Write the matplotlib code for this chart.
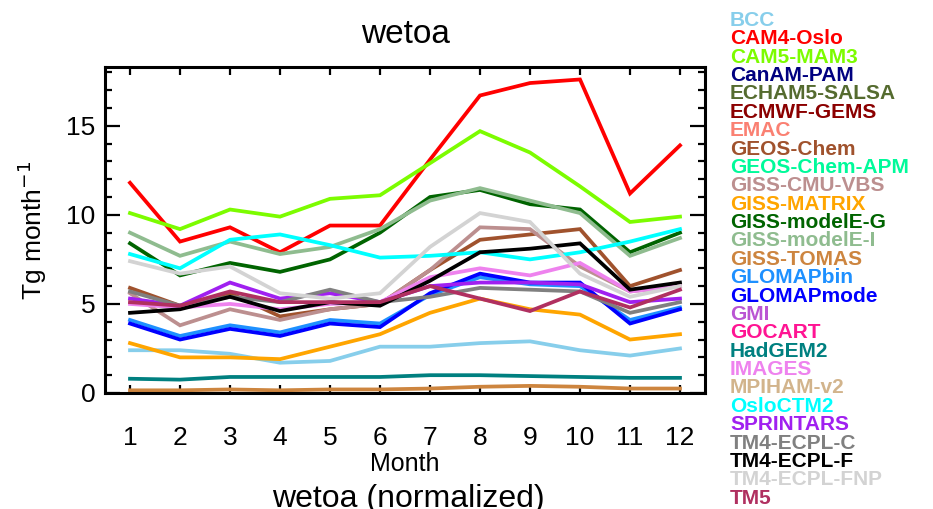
import matplotlib
matplotlib.use('Agg')
import matplotlib.pyplot as plt

plt.rcParams['font.family'] = ['Liberation Sans', 'DejaVu Sans']

months = list(range(1, 13))

# legend entries (all models) and their colours
models = ['BCC', 'CAM4-Oslo', 'CAM5-MAM3', 'CanAM-PAM', 'ECHAM5-SALSA', 'ECMWF-GEMS',
          'EMAC', 'GEOS-Chem', 'GEOS-Chem-APM', 'GISS-CMU-VBS', 'GISS-MATRIX',
          'GISS-modelE-G', 'GISS-modelE-I', 'GISS-TOMAS', 'GLOMAPbin', 'GLOMAPmode',
          'GMI', 'GOCART', 'HadGEM2', 'IMAGES', 'MPIHAM-v2', 'OsloCTM2', 'SPRINTARS',
          'TM4-ECPL-C', 'TM4-ECPL-F', 'TM4-ECPL-FNP', 'TM5']
colors = ['#87CEEB', '#FF0000', '#7CFC00', '#000080', '#556B2F', '#8B0000',
          '#FA8072', '#A0522D', '#00FA9A', '#BC8F8F', '#FFA500',
          '#006400', '#8FBC8F', '#CD853F', '#1E90FF', '#0000FF',
          '#BA55D3', '#FF1493', '#008080', '#EE82EE', '#D2B48C', '#00FFFF', '#A020F0',
          '#808080', '#000000', '#D3D3D3', '#B03060']

# monthly wet deposition (Tg month-1)
bcc = [2.4, 2.4, 2.2, 1.7, 1.8, 2.6, 2.6, 2.8, 2.9, 2.4, 2.1, 2.5]
cam4_oslo = [11.8, 8.5, 9.3, 7.9, 9.4, 9.4, 13.1, 16.7, 17.4, 17.6, 11.2, 13.9]
cam5_mam3 = [10.1, 9.2, 10.3, 9.9, 10.9, 11.1, 12.9, 14.7, 13.5, 11.6, 9.6, 9.9]
geos_chem = [5.9, 4.9, 5.6, 4.3, 4.7, 5.0, 6.9, 8.6, 8.9, 9.2, 6.0, 6.9]
giss_cmu_vbs = [5.6, 3.8, 4.7, 4.1, 4.7, 5.0, 6.9, 9.3, 9.2, 7.1, 5.7, 6.0]
giss_matrix = [2.8, 2.0, 2.0, 1.9, 2.6, 3.3, 4.5, 5.3, 4.7, 4.4, 3.0, 3.3]
giss_modele_g = [8.4, 6.6, 7.3, 6.8, 7.5, 9.0, 11.0, 11.4, 10.6, 10.3, 7.9, 9.0]
giss_modele_i = [9.0, 7.7, 8.5, 7.8, 8.2, 9.2, 10.8, 11.5, 10.8, 10.1, 7.7, 8.7]
giss_tomas = [0.15, 0.15, 0.2, 0.15, 0.2, 0.2, 0.25, 0.35, 0.4, 0.35, 0.25, 0.25]
glomapbin = [4.1, 3.2, 3.8, 3.4, 4.1, 3.9, 5.5, 6.5, 6.1, 6.0, 4.1, 4.8]
glomapmode = [3.9, 3.0, 3.6, 3.2, 3.9, 3.7, 5.6, 6.7, 6.2, 6.2, 3.9, 4.7]
hadgem2 = [0.8, 0.75, 0.9, 0.9, 0.9, 0.9, 1.0, 1.0, 0.95, 0.9, 0.85, 0.85]
images = [5.0, 4.8, 5.0, 4.7, 5.0, 5.1, 6.5, 7.0, 6.6, 7.3, 5.7, 6.0]
osloctm2 = [7.8, 7.0, 8.6, 8.9, 8.3, 7.6, 7.7, 7.9, 7.5, 7.9, 8.5, 9.2]
sprintars = [5.3, 4.9, 6.2, 5.3, 5.6, 5.1, 6.0, 6.2, 6.2, 6.1, 5.1, 5.3]
tm4_ecpl_c = [5.7, 4.9, 5.4, 5.1, 5.8, 5.1, 5.4, 5.9, 5.8, 5.7, 4.5, 5.1]
tm4_ecpl_f = [4.5, 4.7, 5.4, 4.6, 5.1, 4.9, 6.3, 7.9, 8.1, 8.4, 5.8, 6.2]
tm4_ecpl_fnp = [7.4, 6.7, 7.1, 5.6, 5.3, 5.6, 8.2, 10.1, 9.6, 6.7, 5.4, 6.0]
tm5 = [5.1, 4.9, 5.7, 5.1, 5.1, 5.1, 6.0, 5.3, 4.6, 5.7, 4.8, 5.8]

series = {
    'BCC': bcc, 'CAM4-Oslo': cam4_oslo, 'CAM5-MAM3': cam5_mam3,
    'GEOS-Chem': geos_chem, 'GISS-CMU-VBS': giss_cmu_vbs, 'GISS-MATRIX': giss_matrix,
    'GISS-modelE-G': giss_modele_g, 'GISS-modelE-I': giss_modele_i,
    'GISS-TOMAS': giss_tomas, 'GLOMAPbin': glomapbin, 'GLOMAPmode': glomapmode,
    'HadGEM2': hadgem2, 'IMAGES': images, 'OsloCTM2': osloctm2,
    'SPRINTARS': sprintars, 'TM4-ECPL-C': tm4_ecpl_c, 'TM4-ECPL-F': tm4_ecpl_f,
    'TM4-ECPL-FNP': tm4_ecpl_fnp, 'TM5': tm5,
}

fig = plt.figure(figsize=(9.33, 5.09), dpi=100)
ax = fig.add_axes([105/933, 1 - 393/509, 600/933, 326/509])

for name, col in zip(models, colors):
    if name in series:
        ax.plot(months, series[name], color=col, lw=2.7, solid_joinstyle='miter')

ax.set_xlim(0.5, 12.5)
ax.set_ylim(0, 18.3)
ax.set_xticks(months)
ax.set_yticks([0, 5, 10, 15])
ax.set_yticks(range(0, 19), minor=True)
ax.tick_params(axis='y', which='major', direction='in', length=11, width=1.6,
               left=True, right=True, labelsize=19, pad=7)
ax.tick_params(axis='y', which='minor', direction='in', length=5, width=1.6,
               left=True, right=True)
ax.tick_params(axis='x', which='major', direction='in', length=6, width=1.6,
               top=True, bottom=True, labelsize=19, pad=24)
for sp in ax.spines.values():
    sp.set_linewidth(2.2)

ax.set_title('wetoa', fontsize=24, pad=17)
ax.set_xlabel('Month', fontsize=18, labelpad=1)
ax.set_ylabel('Tg month$^{-1}$', fontsize=19, labelpad=12)

# coloured model names down the right side
y0 = 1 - 20.5/509
dy = 18.37/509
for i, (name, col) in enumerate(zip(models, colors)):
    fig.text(730/933, y0 - i*dy, name, color=col, fontsize=15, fontweight='bold',
             ha='left', va='center')

fig.text(408/933, 1 - 484/509, 'wetoa (normalized)', fontsize=23, ha='center', va='top')

fig.savefig('out.png', dpi=100)
